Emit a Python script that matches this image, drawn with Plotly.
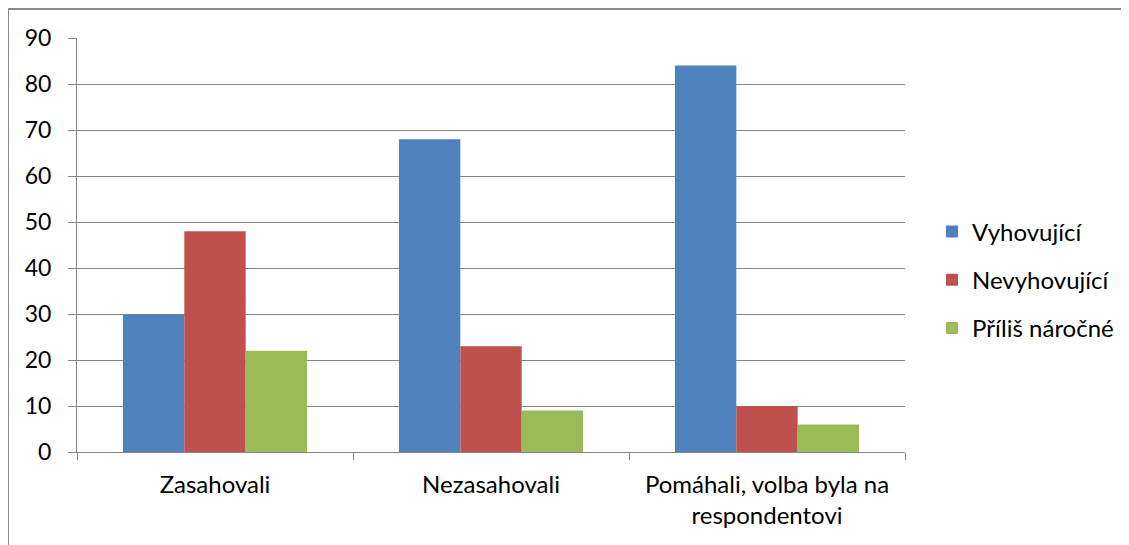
import plotly.graph_objects as go

categories = ["Zasahovali", "Nezasahovali", "Pomáhali, volba byla na<br>respondentovi"]
series_names = ["Vyhovující", "Nevyhovující", "Příliš náročné"]
vyhovujici = [30, 68, 84]
nevyhovujici = [48, 23, 10]
prilis_narocne = [22, 9, 6]
colors = ["#4F81BD", "#C0504D", "#9BBB59"]
y_ticks = [0, 10, 20, 30, 40, 50, 60, 70, 80, 90]

# page body has an 8px margin, so work in figure coordinates = screen - 8
OFF = 8
W, H = 1129 - OFF, 545 - OFF
L, T = 77 - OFF, 38 - OFF
pw, ph = 828, 414
R, B = W - L - pw, H - T - ph

def px_x(p):
    return (p - OFF - L) / pw

def px_y(p):
    return (H - B - (p - OFF)) / ph

fig = go.Figure()
for i, (name, vals) in enumerate(zip(series_names, [vyhovujici, nevyhovujici, prilis_narocne])):
    fig.add_trace(go.Bar(x=categories, y=vals, name=name, marker_color=colors[i],
                         marker_line_width=0, legendgroup=name))

grey = "#868686"
font = "Lato, 'Open Sans', sans-serif"
fig.update_layout(
    width=W, height=H,
    margin=dict(l=L, r=R, t=T, b=B, pad=0, autoexpand=False),
    paper_bgcolor="white", plot_bgcolor="white",
    barmode="group", bargap=0.333, bargroupgap=0,
    font=dict(family=font, size=24, color="#000000"),
    showlegend=True,
    legend=dict(x=px_x(932), y=px_y(280), xanchor="left", yanchor="middle",
                font=dict(size=24), tracegroupgap=14, bgcolor="rgba(0,0,0,0)"),
    xaxis=dict(showline=True, linecolor=grey, linewidth=1, tickson="boundaries",
               ticks="outside", ticklen=7, tickcolor=grey, showgrid=False,
               tickfont=dict(size=24), ticklabelstandoff=11, automargin=False),
    yaxis=dict(range=[0, 90], tickvals=y_ticks, showline=True, linecolor=grey, linewidth=1,
               ticks="outside", ticklen=8, tickcolor=grey, gridcolor=grey, gridwidth=1,
               zeroline=False, tickfont=dict(size=23), ticklabelstandoff=12, automargin=False),
    shapes=[
        dict(type="line", xref="paper", yref="paper", x0=px_x(8), x1=px_x(1129 + 5),
             y0=px_y(9), y1=px_y(9), line=dict(color="#8a8a8a", width=2)),
        dict(type="line", xref="paper", yref="paper", x0=px_x(8), x1=px_x(8),
             y0=px_y(9), y1=px_y(545 + 5), line=dict(color="#8a8a8a", width=2)),
    ],
)
fig.write_html("out.html")
